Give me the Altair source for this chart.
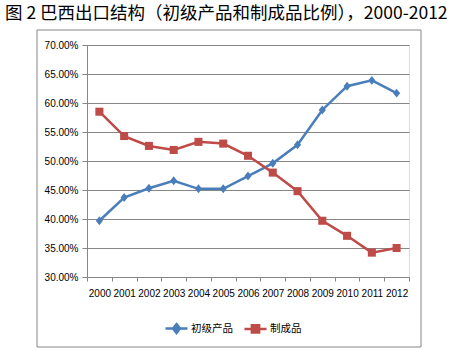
import altair as alt
import pandas as pd

years = [str(y) for y in range(2000, 2013)]
primary = [39.7, 43.7, 45.3, 46.6, 45.2, 45.2, 47.4, 49.6, 52.8, 58.8, 62.9, 63.9, 61.7]
manufactured = [58.5, 54.3, 52.6, 51.9, 53.3, 53.0, 50.9, 48.0, 44.8, 39.7, 37.1, 34.2, 35.0]
series_names = ["初级产品", "制成品"]
colors = ["#4A7EBB", "#BE4B48"]
title_text = "图 2 巴西出口结构（初级产品和制成品比例），2000-2012"

rows = []
for y, v in zip(years, primary):
    rows.append({"year": y, "value": v, "series": series_names[0]})
for y, v in zip(years, manufactured):
    rows.append({"year": y, "value": v, "series": series_names[1]})
df = pd.DataFrame(rows)

label_font = "Liberation Sans"
cjk_font = "Noto Sans CJK SC"
grid_color = "#868686"

diamond_pt = "M0,-1L0.8,0L0,1L-0.8,0Z"
square_pt = "M-0.9,-0.9H0.9V0.9H-0.9Z"
diamond_leg = "M-1,0H1M0,-0.4L0.32,0L0,0.4L-0.32,0Z"
square_leg = "M-1,0H1M-0.33,-0.33H0.33V0.33H-0.33Z"


def make_legend():
    return alt.Legend(
        title=None,
        orient="none",
        legendX=77,
        legendY=271,
        direction="horizontal",
        symbolSize=484,
        symbolStrokeWidth=2.5,
        symbolOpacity=1,
        labelFont=cjk_font,
        labelFontSize=10.5,
        labelColor="#000000",
        labelOffset=2,
        columnPadding=6,
    )


x_enc = alt.X(
    "year:O",
    bandPosition=0.5,
    scale=alt.Scale(type="band", paddingInner=0, paddingOuter=0),
    axis=alt.Axis(
        title=None,
        labelAngle=0,
        labelFont=label_font,
        labelFontSize=10,
        labelColor="#000000",
        labelOverlap=False,
        labelPadding=7,
        tickBand="extent",
        tickSize=4,
        tickColor=grid_color,
        domainColor=grid_color,
        grid=False,
    ),
)
y_enc = alt.Y(
    "value:Q",
    scale=alt.Scale(domain=[30, 70], nice=False, zero=False),
    axis=alt.Axis(
        title=None,
        values=[30, 35, 40, 45, 50, 55, 60, 65, 70],
        labelExpr="format(datum.value, '.2f') + '%'",
        labelFont=label_font,
        labelFontSize=10,
        labelColor="#000000",
        labelPadding=4,
        tickSize=5,
        tickColor=grid_color,
        domainColor=grid_color,
        gridColor=grid_color,
        gridWidth=1,
    ),
)
# data-derived domain (sorted: 初级产品, 制成品) so it does not merge with the legend's scales
color_enc = alt.Color(
    "series:N",
    scale=alt.Scale(range=colors),
    legend=None,
)

box = alt.Chart(pd.DataFrame({"a": [0]})).mark_rect(
    fill="white", fillOpacity=0, stroke=grid_color, strokeWidth=1
).encode(
    x=alt.value(-50), x2=alt.value(334), y=alt.value(-15), y2=alt.value(302)
)

lines = alt.Chart(df).mark_line(strokeWidth=2.5).encode(x=x_enc, y=y_enc, color=color_enc)

pts_primary = alt.Chart(df).transform_filter(
    alt.datum.series == series_names[0]
).mark_point(filled=True, opacity=1, size=80, shape=diamond_pt).encode(
    x=x_enc, y=y_enc, color=color_enc
)
pts_manuf = alt.Chart(df).transform_filter(
    alt.datum.series == series_names[1]
).mark_point(filled=True, opacity=1, size=80, shape=square_pt).encode(
    x=x_enc, y=y_enc, color=color_enc
)

legend_layer = alt.Chart(df).mark_point(opacity=1, strokeWidth=2.5, size=0).encode(
    x=x_enc,
    y=y_enc,
    fill=alt.Fill("series:N", scale=alt.Scale(domain=series_names, range=colors), legend=make_legend()),
    stroke=alt.Stroke("series:N", scale=alt.Scale(domain=series_names, range=colors), legend=make_legend()),
    shape=alt.Shape("series:N", scale=alt.Scale(domain=series_names, range=[diamond_leg, square_leg]), legend=make_legend()),
)

chart = alt.layer(box, lines, pts_primary, pts_manuf, legend_layer).properties(
    width=322,
    height=232,
    autosize=alt.AutoSizeParams(type="none"),
    padding={"left": 87, "top": 45, "right": 45, "bottom": 76},
    title=alt.TitleParams(
        text=title_text,
        anchor="start",
        frame="group",
        dx=-82,
        offset=7,
        font=cjk_font,
        fontSize=17.5,
        fontWeight="normal",
        color="#000000",
    ),
).configure_view(stroke=None).configure(background="white")

chart.save("out.html", embed_options={"renderer": "svg", "actions": False})
